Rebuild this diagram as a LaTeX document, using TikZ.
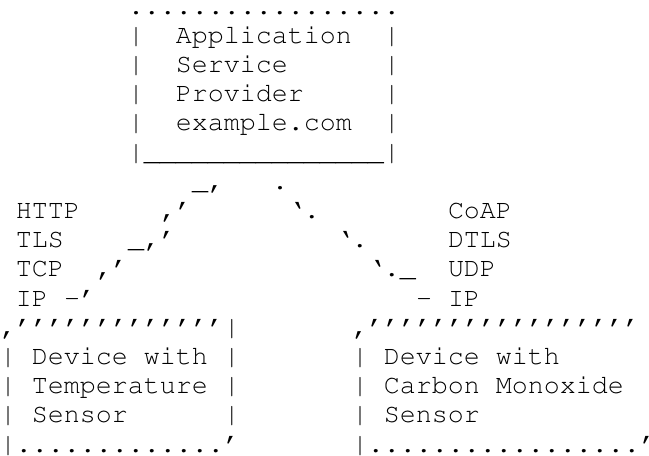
\documentclass[tikz,border=0pt]{standalone}
\usepackage[T1]{fontenc}
\usepackage{fontspec}

\begin{document}
\begin{tikzpicture}[x=16pt,y=29.2pt,
  ascii/.style={font=\fontsize{26.66pt}{29.2pt}\usefont{T1}{pcr}{m}{n},
    inner sep=0pt, outer sep=0pt, anchor=base west}]
\path[use as bounding box, fill=white] (0,.4795) rectangle (40.5625,-15.103);
\node[ascii] (aspTop) at (8,0) {.................};
\foreach \n/\lbl in {1/Application,2/Service~~~~,3/Provider~~~,4/example.com}
\node[ascii] (asp\n) at (8,-\n) {|~~\lbl~~|};
\node[ascii] (aspBot) at (8,-5) {|\_\_\_\_\_\_\_\_\_\_\_\_\_\_\_|};
\foreach \n/\lbl in {7/HTTP,8/TLS,9/TCP,10/IP}
\node[ascii] (left\n) at (1,-\n) {\lbl};
\foreach \n/\lbl in {7/CoAP,8/DTLS,9/UDP,10/IP}
\node[ascii] (right\n) at (28,-\n) {\lbl};
\node[ascii] (lnk6) at (12,-6) {\_,};
\node[ascii] (lnk7) at (10,-7) {,'};
\node[ascii] (lnk8) at (8,-8) {\_,'};
\node[ascii] (lnk9) at (6,-9) {,'};
\node[ascii] (lnk10) at (4,-10) {-'};
\node[ascii] (rnk6) at (17,-6) {.};
\node[ascii] (rnk7) at (18,-7) {`.};
\node[ascii] (rnk8) at (21,-8) {`.};
\node[ascii] (rnk9) at (23,-9) {`.\_};
\node[ascii] (rnk10) at (26,-10) {-};
\node[ascii] (tempTop) at (0,-11) {,'{}'{}'{}'{}'{}'{}'{}'{}'{}'{}'{}'{}'|};
\foreach \n/\lbl in {12/Device~with,13/Temperature,14/Sensor~~~~~}
\node[ascii] (temp\n) at (0,-\n) {|~\lbl~|};
\node[ascii] (tempBot) at (0,-15) {|.............'};
\node[ascii] (coTop) at (22,-11) {,'{}'{}'{}'{}'{}'{}'{}'{}'{}'{}'{}'{}'{}'{}'{}'{}'};
\foreach \n/\lbl in {12/Device~with,13/Carbon~Monoxide,14/Sensor}
\node[ascii] (co\n) at (22,-\n) {|~\lbl};
\node[ascii] (coBot) at (22,-15) {|.................'};
\end{tikzpicture}
\end{document}
